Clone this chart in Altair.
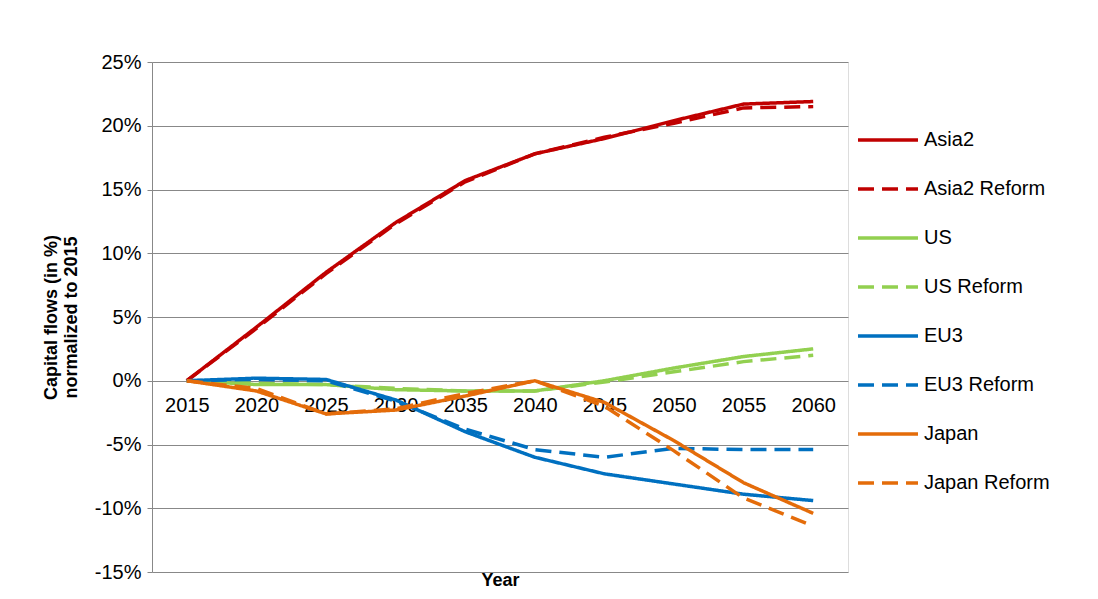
import altair as alt
import pandas as pd

years = ["2015", "2020", "2025", "2030", "2035", "2040", "2045", "2050", "2055", "2060"]
asia2 = [0, 4.2, 8.5, 12.4, 15.7, 17.8, 19.0, 20.4, 21.7, 21.9]
asia2_reform = [0, 4.1, 8.4, 12.3, 15.6, 17.8, 19.1, 20.2, 21.4, 21.5]
us = [0, -0.3, -0.3, -0.7, -0.8, -0.8, 0.0, 1.0, 1.9, 2.5]
us_reform = [0, -0.2, -0.3, -0.6, -0.8, -0.8, -0.1, 0.7, 1.5, 2.0]
eu3 = [0, 0.2, 0.1, -1.5, -4.0, -6.0, -7.3, -8.1, -8.9, -9.4]
eu3_reform = [0, 0.1, 0.0, -1.6, -3.8, -5.4, -6.0, -5.3, -5.4, -5.4]
japan = [0, -0.8, -2.6, -2.3, -1.2, 0.0, -1.7, -4.7, -8.0, -10.4]
japan_reform = [0, -0.6, -2.6, -2.2, -1.0, 0.0, -2.0, -5.5, -9.2, -11.4]

series = {
    "Asia2": asia2, "Asia2 Reform": asia2_reform,
    "US": us, "US Reform": us_reform,
    "EU3": eu3, "EU3 Reform": eu3_reform,
    "Japan": japan, "Japan Reform": japan_reform,
}
names = list(series)
colors = ["#C00000", "#C00000", "#92D050", "#92D050", "#0070C0", "#0070C0", "#E46C0A", "#E46C0A"]
dashes = [[1, 0], [16, 8]] * 4

rows = []
for n, vals in series.items():
    for y, v in zip(years, vals):
        rows.append({"series": n, "year": y, "value": v / 100})
df = pd.DataFrame(rows)

legend = alt.Legend(title=None, symbolType="stroke", symbolSize=3600, symbolStrokeWidth=3.5,
                    labelFontSize=20, rowPadding=7, labelLimit=300, labelColor="black",
                    orient="none", legendX=704, legendY=46)

chart = (
    alt.Chart(df)
    .mark_line(strokeWidth=3.5)
    .encode(
        x=alt.X("year:O", title="Year", sort=years,
                scale=alt.Scale(paddingOuter=0.5),
                axis=alt.Axis(offset=-191, titleY=190, labelAngle=0, ticks=False, domain=False,
                              labelFontSize=20, labelPadding=14, titleFontSize=18,
                              titleFontWeight="bold", labelColor="black")),
        y=alt.Y("value:Q", title=["Capital flows (in %)", "normalized to 2015"],
                scale=alt.Scale(domain=[-0.15, 0.25], nice=False),
                axis=alt.Axis(format=".0%", values=[-0.15, -0.1, -0.05, 0, 0.05, 0.1, 0.15, 0.2, 0.25],
                              labelExpr="replace(datum.label, '\u2212', '-')",
                              labelFontSize=20, titleFontSize=18, titleFontWeight="bold",
                              ticks=True, tickColor="#888", domainColor="#888",
                              gridColor="#888", labelColor="black", labelPadding=6, titlePadding=14)),
        color=alt.Color("series:N", sort=names, scale=alt.Scale(domain=names, range=colors),
                        legend=legend),
        strokeDash=alt.StrokeDash("series:N", sort=names, scale=alt.Scale(domain=names, range=dashes),
                                  legend=legend),
    )
    .properties(width=696, height=510, padding={"left": 144, "top": 54, "right": 242, "bottom": 20})
    .configure_view(stroke=None)
    .configure(font="Liberation Sans", autosize="none")
)

chart.save("out.html", embed_options={"renderer": "svg", "actions": False})
